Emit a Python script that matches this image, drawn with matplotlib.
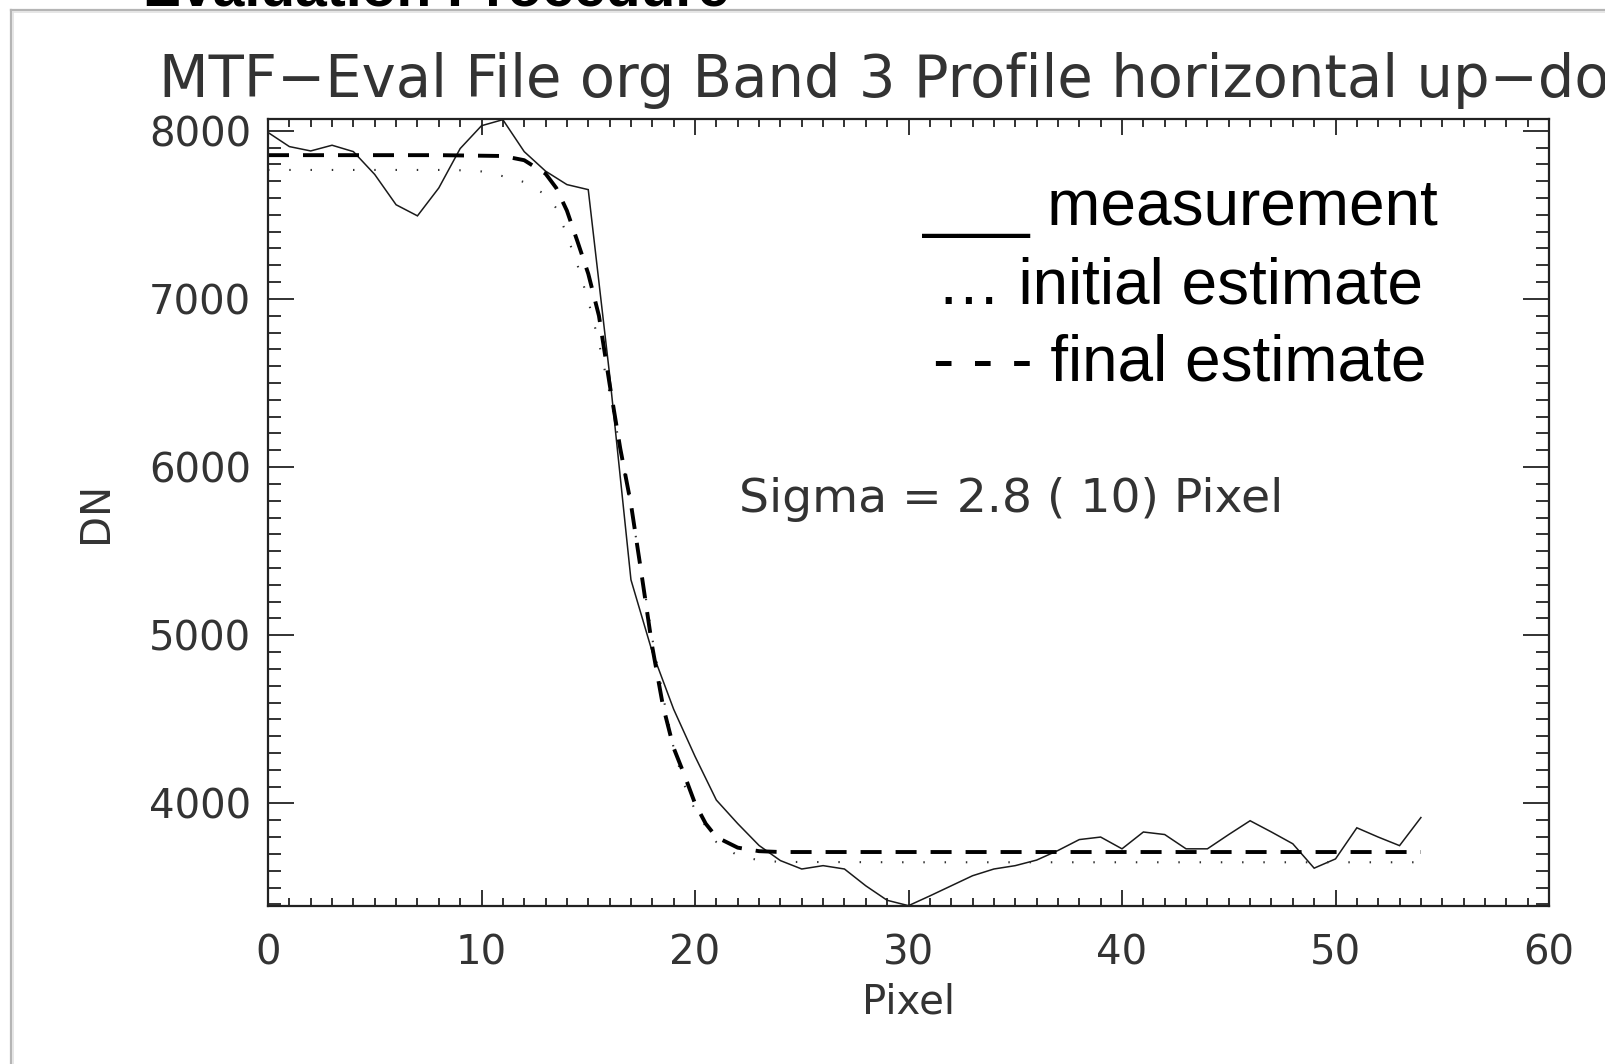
import matplotlib
matplotlib.use("Agg")
import matplotlib.pyplot as plt
from matplotlib.lines import Line2D
from matplotlib.ticker import MultipleLocator

# ---- data ----
meas_x = list(range(0, 55))
meas_y = [7990, 7906, 7880, 7914, 7876, 7740, 7560, 7494, 7660, 7894,
          8030, 8066, 7876, 7760, 7680, 7650, 6550, 5330, 4900, 4560,
          4280, 4020, 3880, 3750, 3660, 3610, 3630, 3610, 3510, 3424,
          3392, 3450, 3510, 3570, 3610, 3630, 3663, 3720, 3785, 3800,
          3730, 3830, 3815, 3730, 3730, 3815, 3897, 3830, 3760, 3615,
          3670, 3855, 3800, 3749, 3916]

init_x = [0, 2, 4, 6, 8, 9, 10, 11, 12, 13, 13.5, 14, 14.5, 15, 15.5, 16,
          16.5, 17, 17.5, 18, 18.5, 19, 19.5, 20, 21, 22, 23, 24, 30, 40, 54]
init_y = [7767, 7767, 7767, 7767, 7767, 7765, 7758, 7730, 7695, 7620, 7540,
          7380, 7200, 6990, 6740, 6440, 6110, 5760, 5380, 4980, 4640, 4330,
          4110, 3960, 3770, 3690, 3662, 3652, 3650, 3650, 3650]

final_x = [0, 4, 8, 11, 12, 13, 13.5, 14, 14.5, 15, 15.5, 16, 16.5, 17,
           17.5, 18, 18.5, 19, 19.5, 20, 20.5, 21, 22, 23, 24, 30, 40, 54]
final_y = [7855, 7855, 7855, 7850, 7825, 7745, 7660, 7525, 7340, 7150,
           6900, 6494, 6110, 5780, 5360, 4930, 4580, 4330, 4170, 4000,
           3880, 3800, 3737, 3716, 3711, 3711, 3711, 3711]

x_ticks = [0, 10, 20, 30, 40, 50, 60]
y_ticks = [4000, 5000, 6000, 7000, 8000]
x_range = (0, 60)
y_range = (3390, 8070)

title_text = "MTF\u2212Eval File org Band 3 Profile horizontal up\u2212down"
sigma_text = "Sigma = 2.8 ( 10) Pixel"
legend_lines = ["___ measurement", "\u2026 initial estimate", "- - - final estimate"]
header_text = "Evaluation Procedure"

W, H = 1605, 1064
fig = plt.figure(figsize=(W / 100, H / 100), dpi=100)
fig.patch.set_facecolor("white")

def fx(px):
    return px / W

def fy(py):
    return 1 - py / H

# slide frame / header
fig.add_artist(Line2D([fx(11), fx(11)], [fy(10), fy(1064)], color="#b5b5b5", lw=1.6))
fig.add_artist(Line2D([fx(11), fx(1605)], [fy(10), fy(10)], color="#b5b5b5", lw=1.6))
fig.add_artist(Line2D([fx(13), fx(13)], [fy(12), fy(1064)], color="#e2e2e2", lw=1.2))
fig.add_artist(Line2D([fx(13), fx(1605)], [fy(12), fy(12)], color="#e2e2e2", lw=1.2))
fig.text(fx(143), fy(6), header_text, fontsize=41, fontweight="bold",
         family="Liberation Sans", va="baseline", ha="left", color="black")

ax = fig.add_axes([fx(268), fy(906), fx(1549) - fx(268), fy(119) - fy(906)])

gray = "#303030"
ax.plot(meas_x, meas_y, color="#1a1a1a", lw=1.1, solid_joinstyle="miter")
ax.plot(init_x, init_y, color=gray, lw=1.5, linestyle=(0, (0.7, 9.5)),
        dash_capstyle="butt")
ax.plot(final_x, final_y, color="black", lw=2.8, linestyle=(0, (5.4, 3.6)),
        dash_capstyle="butt")

ax.set_xlim(*x_range)
ax.set_ylim(*y_range)
ax.set_xticks(x_ticks)
ax.set_yticks(y_ticks)
ax.xaxis.set_minor_locator(MultipleLocator(1))
ax.yaxis.set_minor_locator(MultipleLocator(100))
ax.tick_params(which="both", direction="in", top=True, right=True, color="#222222", width=1.3)
ax.tick_params(axis="x", which="major", length=11.5, pad=20)
ax.tick_params(axis="x", which="minor", length=5.8)
ax.tick_params(axis="y", which="major", length=18.5, pad=12)
ax.tick_params(axis="y", which="minor", length=9.2)
for lab in ax.get_xticklabels() + ax.get_yticklabels():
    lab.set_fontsize(29)
    lab.set_color("#333333")
    lab.set_family("DejaVu Sans")
for sp in ax.spines.values():
    sp.set_linewidth(1.6)
    sp.set_color("#222222")

ax.set_xlabel("Pixel", fontsize=29, color="#333333", labelpad=6)
ax.set_ylabel("DN", fontsize=29, color="#333333", labelpad=24)

fig.text(fx(159), fy(97), title_text, fontsize=41.5, color="#333333",
         va="baseline", ha="left")
ax.text(22.05, 5810, sigma_text, fontsize=34, color="#333333", va="center", ha="left")

for i, (s, yb) in enumerate(zip(legend_lines, [225, 303, 381])):
    fig.text(fx(1180), fy(yb), s, fontsize=46, family="Liberation Sans",
             color="black", ha="center", va="baseline")

fig.savefig("out.png", dpi=100)
